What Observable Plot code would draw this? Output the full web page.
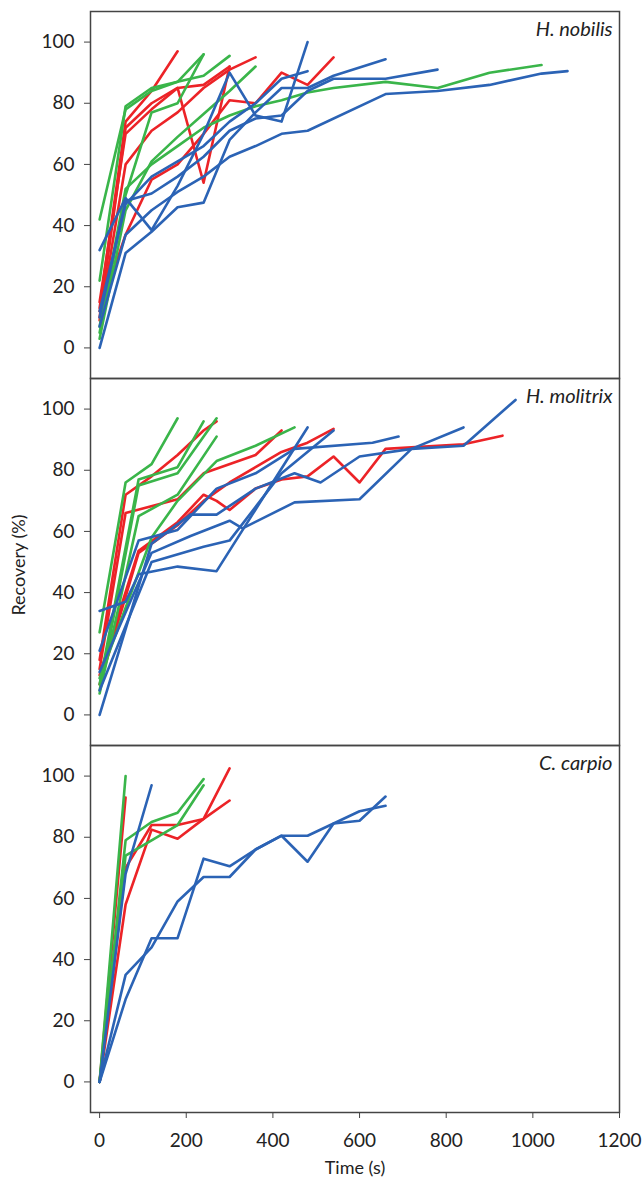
<!DOCTYPE html>
<html><head><meta charset="utf-8">
<script src="https://cdn.jsdelivr.net/npm/d3@7"></script>
<script src="https://cdn.jsdelivr.net/npm/@observablehq/plot@0.6"></script>
<style>body{margin:0;background:#fff;font-family:Lato,sans-serif}</style>
</head><body><div id="chart"></div>
<script>
const species = ["H. nobilis", "H. molitrix", "C. carpio"];
const groups = ["A", "B", "C"];
const groupColors = ["#ec2327", "#3ab54a", "#2b63b5"];
const xTicks = [0, 200, 400, 600, 800, 1000, 1200];
const yTicks = [0, 20, 40, 60, 80, 100];

// [time (s), recovery (%)]
const nobilisRed = [
  [[0,13],[60,74],[120,84],[180,97]],
  [[0,10],[60,72],[120,80],[180,85],[240,86],[300,92]],
  [[0,15],[60,70],[120,78],[180,85],[240,54],[300,92]],
  [[0,9],[60,60],[120,71],[180,77],[240,85],[300,91],[360,95]],
  [[0,12],[60,37],[120,55],[180,60],[240,70],[300,81],[360,80],[420,90],[480,86],[540,95]]
];
const nobilisGreen = [
  [[0,42],[60,78],[120,84],[180,87],[240,96]],
  [[0,22],[60,79],[120,85],[180,87],[240,89],[300,95.5]],
  [[0,5],[60,50],[120,77],[180,80],[240,96]],
  [[0,3],[60,45],[120,61],[180,69],[240,76.5],[300,84],[360,92]],
  [[0,7],[60,52],[120,60],[180,66],[240,72],[300,76],[360,79],[420,81],[480,83.5],[540,85],[660,87],[780,85],[900,90],[1020,92.5]]
];
const nobilisBlue = [
  [[0,32],[60,49],[120,38.5],[180,53],[240,70],[300,90],[360,76],[420,74],[480,100]],
  [[0,0],[60,31],[120,38],[180,46],[240,47.5],[300,68],[360,77],[420,85],[480,85],[540,89],[660,94.4]],
  [[0,10],[60,48],[120,50.5],[180,56],[240,62.5],[300,71],[360,75],[420,76],[480,84],[540,88],[660,88],[780,91]],
  [[0,7],[60,37],[120,45],[180,51],[240,56],[300,62.5],[360,66],[420,70],[480,71],[660,83],[780,84],[900,86],[1020,89.7],[1080,90.5]],
  [[0,12],[60,47],[120,56],[180,61],[240,66],[300,74],[360,80],[420,88],[480,90.5]]
];

const molitrixRed = [
  [[0,18],[60,72],[120,78],[180,85],[240,93],[270,96]],
  [[0,15],[60,66],[180,70.5],[240,79],[360,85],[420,93]],
  [[0,13],[90,53.7],[180,63],[240,72],[270,70],[300,67],[360,74],[420,77],[480,78],[540,84.5],[600,76],[660,87],[840,88.5],[930,91.3]],
  [[0,10],[90,53],[180,62],[240,70],[300,76],[360,81],[420,86],[480,89],[540,93.5]]
];
const molitrixGreen = [
  [[0,27],[60,76],[120,82],[180,97]],
  [[0,10],[90,77],[180,81],[240,96]],
  [[0,8],[90,75],[180,79],[270,97]],
  [[0,7],[90,65],[180,72],[270,91]],
  [[0,12],[120,58],[180,70],[270,83],[360,88],[450,94]]
];
const molitrixBlue = [
  [[0,34],[60,37],[90,46],[180,48.5],[270,47],[480,94]],
  [[0,21],[90,57],[180,60.5],[270,74],[360,79],[450,87],[630,89],[690,91]],
  [[0,0],[120,56],[210,65.5],[270,65.5],[360,74],[450,79],[510,76],[600,84.5],[720,87],[840,94]],
  [[0,14],[120,53],[210,58.5],[300,63.5],[330,61],[450,69.5],[600,70.5],[720,87],[840,88],[960,103]],
  [[0,8],[120,50],[240,55],[300,57],[420,79],[540,93]]
];

const carpioRed = [
  [[0,0],[60,93]],
  [[0,0],[60,58],[120,82.5],[180,79.5],[240,86],[300,102.5]],
  [[0,0],[60,70],[120,84],[180,84],[240,86],[300,92]]
];
const carpioGreen = [
  [[0,0],[60,100]],
  [[0,0],[60,79],[120,85],[180,88],[240,99]],
  [[0,0],[60,74],[120,79],[180,84],[240,97]]
];
const carpioBlue = [
  [[0,0],[60,68],[120,97]],
  [[0,0],[60,35],[120,44],[180,59],[240,67],[300,67],[360,76],[420,80.5],[480,80.5],[540,84.5],[600,88.5],[660,90.3]],
  [[0,0],[60,27],[120,47],[180,47],[240,73],[300,70.5],[360,76],[420,80.5],[480,72],[540,84.5],[600,85.4],[660,93.3]]
];

const rows = [];
function add(sp, group, lines) {
  lines.forEach((pts, i) => pts.forEach(([t, v]) => rows.push({species: sp, group, id: sp + group + i, t, v})));
}
add(species[0], "A", nobilisRed); add(species[0], "B", nobilisGreen); add(species[0], "C", nobilisBlue);
add(species[1], "A", molitrixRed); add(species[1], "B", molitrixGreen); add(species[1], "C", molitrixBlue);
add(species[2], "A", carpioRed); add(species[2], "B", carpioGreen); add(species[2], "C", carpioBlue);

const plot = Plot.plot({
  width: 644, height: 1179,
  marginLeft: 90, marginRight: 25, marginTop: 10, marginBottom: 66,
  style: {fontFamily: "Lato, sans-serif", background: "#fff", overflow: "visible"},
  x: {domain: [-21, 1200]},
  y: {domain: [-10, 110]},
  fy: {domain: species, axis: null, padding: 0},
  color: {domain: groups, range: groupColors},
  marks: [
    Plot.line(rows, {x: "t", y: "v", z: "id", stroke: "group", fy: "species", strokeWidth: 2.6}),
    Plot.frame({stroke: "#444", strokeWidth: 1.5}),
    Plot.axisY({ticks: yTicks, tickSize: 6, tickPadding: 10, fontSize: 19, label: null, stroke: "#444", fill: "#222"}),
    Plot.axisX({ticks: xTicks, tickSize: 6, tickPadding: 15, fontSize: 19, label: null, tickFormat: d => String(d), stroke: "#444", fill: "#222"}),
    Plot.text(species, {fy: d => d, text: d => d, frameAnchor: "top-right", dx: -7, dy: 10, fontStyle: "italic", fontSize: 20, fill: "#222"})
  ]
});
const svg = d3.select(plot);
svg.append("text").attr("transform", "translate(20,565) rotate(-90)").attr("text-anchor", "middle")
  .attr("dominant-baseline", "middle").style("font-size", "18px").attr("fill", "#222").text("Recovery (%)");
svg.append("text").attr("x", 355).attr("y", 1169).attr("text-anchor", "middle")
  .attr("dominant-baseline", "middle").style("font-size", "18px").attr("fill", "#222").text("Time (s)");
document.getElementById("chart").appendChild(plot);
</script>
</body></html>
